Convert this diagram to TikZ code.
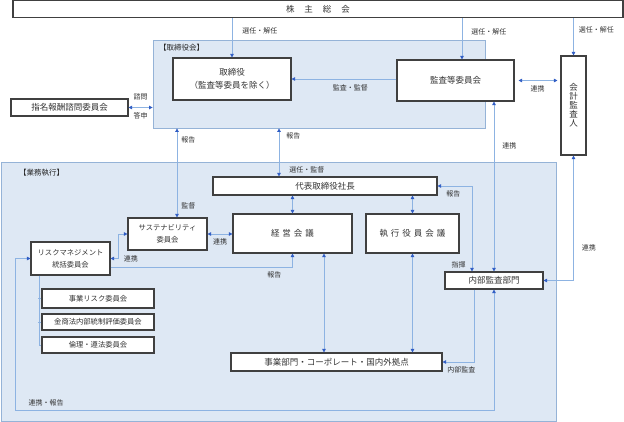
\documentclass[tikz,border=0pt]{standalone}
\usepackage{fontspec}
\setmainfont{Noto Sans CJK JP}
\usepackage{tikz}
\usetikzlibrary{arrows.meta, positioning}

\definecolor{regionfill}{HTML}{DEE8F4}
\definecolor{regionline}{HTML}{95B3D7}
\definecolor{linkblue}{HTML}{8DB3E2}
\definecolor{tipblue}{HTML}{2F5CC4}

\newcommand{\jsp}{\hspace{3pt}}

\begin{document}
\begin{tikzpicture}[
    x=1pt, y=-1pt,
    region/.style={rectangle, draw=regionline, fill=regionfill, line width=0.8pt, inner sep=0pt},
    block/.style={rectangle, draw=black!75, fill=white, line width=1.1pt, align=center, inner sep=0pt, text=black!80, font=\fontsize{8.5}{13}\selectfont},
    small/.style={block, font=\fontsize{7.3}{12}\selectfont},
    lbl/.style={inner sep=1pt, text=black!80, font=\fontsize{7}{8}\selectfont},
    title/.style={inner sep=0pt, anchor=west, text=black!85, font=\fontsize{7.5}{9}\selectfont},
    line/.style={draw=linkblue, line width=0.8pt, -{Triangle[length=3.5pt, width=3.5pt, color=tipblue]}},
    bidir/.style={draw=linkblue, line width=0.8pt, {Triangle[length=3.5pt, width=3.5pt, color=tipblue]}-{Triangle[length=3.5pt, width=3.5pt, color=tipblue]}},
    tree/.style={draw=linkblue, line width=0.8pt}
]
\useasboundingbox (0,0) rectangle (624,422);

% regions
\node[region, minimum width=332pt, minimum height=88pt] (torikai) at (319,84) {};
\node[region, minimum width=555pt, minimum height=259pt] (gyomu) at (278.5,291.5) {};
\node[title] (t-torikai) at (159,48) {【取締役会】};
\node[title] (t-gyomu) at (19,173) {【業務執行】};

% boxes
\node[block, minimum width=610pt, minimum height=17pt] (soukai) at (318,9) {株\hspace{10pt}主\hspace{10pt}総\hspace{10pt}会};
\node[block, minimum width=118pt, minimum height=42pt] (tori) at (232,79) {取締役\\（監査等委員を除く）};
\node[block, minimum width=117pt, minimum height=41pt] (kansa) at (455.5,80.5) {監査等委員会};
\node[block, minimum width=25pt, minimum height=99pt, font=\fontsize{8.5}{9}\selectfont] (kaikei) at (573.5,105.5) {会\\計\\監\\査\\人};
\node[block, minimum width=117pt, minimum height=17pt] (shimei) at (69.5,107.5) {指名報酬諮問委員会};
\node[block, minimum width=224pt, minimum height=18pt] (daihyo) at (325,186) {代表取締役社長};
\node[block, minimum width=119pt, minimum height=39pt] (keiei) at (292.5,233.5) {経\jsp 営\jsp 会\jsp 議};
\node[block, minimum width=93pt, minimum height=39pt] (shikko) at (412.5,233.5) {執\jsp 行\jsp 役\jsp 員\jsp 会\jsp 議};
\node[small, minimum width=79pt, minimum height=32pt] (sust) at (167.5,234) {サステナビリティ\\委員会};
\node[small, minimum width=79pt, minimum height=33pt] (risk) at (70.5,258.5) {リスクマネジメント\\統括委員会};
\node[small, minimum width=112pt, minimum height=19pt] (jrisk) at (98,298.5) {事業リスク委員会};
\node[small, minimum width=112pt, minimum height=16pt] (kinsho) at (98,322) {金商法内部統制評価委員会};
\node[small, minimum width=112pt, minimum height=16pt] (rinri) at (98,345) {倫理・遵法委員会};
\node[block, minimum width=211pt, minimum height=18pt] (jigyo) at (336.5,362) {事業部門・コーポレート・国内外拠点};
\node[block, minimum width=98pt, minimum height=17pt] (naibu) at (494,280.5) {内部監査部門};

% 株主総会から
\coordinate (kansaIn) at ([xshift=6.5pt]kansa.north);
\path[line] (soukai.south -| tori.north) -- node[lbl, right=9pt, pos=0.32] (l-sen1) {選任・解任} (tori.north);
\path[line] (soukai.south -| kansaIn) -- node[lbl, right=8pt, pos=0.33] (l-sen2) {選任・解任} (kansaIn);
\path[line] (soukai.south -| kaikei.north) -- node[lbl, right=4pt, pos=0.31] (l-sen3) {選任・解任} (kaikei.north);

% 取締役会
\path[line] (tori.east -| kansa.west) -- node[lbl, below=4pt, pos=0.44] (l-kansa) {監査・監督} (tori.east);
\path[bidir, shorten <=4pt, shorten >=3pt] (kansa.east) -- node[lbl, below=4pt] (l-renkei1) {連携} (kansa.east -| kaikei.west);
\path[bidir] (shimei.east) -- node[lbl, above=6pt] (l-shimon) {諮問} node[lbl, below=4pt] (l-toshin) {答申} (shimei.east -| torikai.west);

% 取締役会と業務執行
\coordinate (sustIn) at ([xshift=9.5pt]sust.north);
\coordinate (daihyoIn) at ([xshift=-46pt]daihyo.north);
\path[bidir] (sustIn |- torikai.south) -- node[lbl, right=3pt, pos=0.13] (l-hokoku1) {報告} node[lbl, right=3pt, pos=0.87] (l-kantoku) {監督} (sustIn);
\path[bidir] (daihyoIn |- torikai.south) -- node[lbl, right=6pt, pos=0.16] (l-hokoku2) {報告} node[lbl, right=9pt, pos=0.86] (l-senkan) {選任・監督} (daihyoIn);

% 業務執行
\path[bidir] (keiei.north) -- (keiei.north |- daihyo.south);
\path[bidir] (shikko.north) -- (shikko.north |- daihyo.south);
\path[bidir] (sust.east) -- node[lbl, below=3pt] (l-renkei2) {連携} (sust.east -| keiei.west);
\path[bidir] (risk.east) -- ++(8,0) node[lbl, right=4pt] (l-renkei3) {連携} |- (sust.west);
\path[line] ([yshift=-8.5pt]risk.east) -| node[lbl, below=3pt, pos=0.45] (l-hokoku3) {報告} (keiei.south);
\coordinate (keieiOut) at ([xshift=31.5pt]keiei.south);
\path[bidir] (keieiOut) -- (keieiOut |- jigyo.north);
\path[bidir] (shikko.south) -- (shikko.south |- jigyo.north);

% 内部監査部門
\path[line] ([xshift=-20pt]naibu.south) |- node[lbl, below=3pt, pos=0.7] (l-naibu) {内部監査} (jigyo.east);
\path[bidir] ([xshift=-22pt]naibu.north) |- node[lbl, left=5pt, pos=0.04] (l-shiki) {指揮} node[lbl, below=3pt, pos=0.77] (l-hokoku4) {報告} (daihyo.east);
\path[bidir] (naibu.north) -- node[lbl, right=7pt, pos=0.74] (l-renkei4) {連携} (naibu.north |- kansa.south);
\path[bidir] (kaikei.south) |- node[lbl, right=7pt, pos=0.37] (l-renkei5) {連携} (naibu.east);
\coordinate (loopc) at ([yshift=-121pt]naibu.south);
\path[bidir] (risk.west) -- ++(-15,0) |- node[lbl, above=3pt, pos=0.532] (l-renhou) {連携・報告} (loopc) -- (naibu.south);

% リスク委員会の下
\coordinate (riskTree) at ([xshift=-31.5pt]risk.south);
\path[tree] (riskTree) |- (rinri.west);
\foreach \sub in {jrisk, kinsho} \path[tree] (\sub.west) -- ++(-3,0);

\end{tikzpicture}
\end{document}
